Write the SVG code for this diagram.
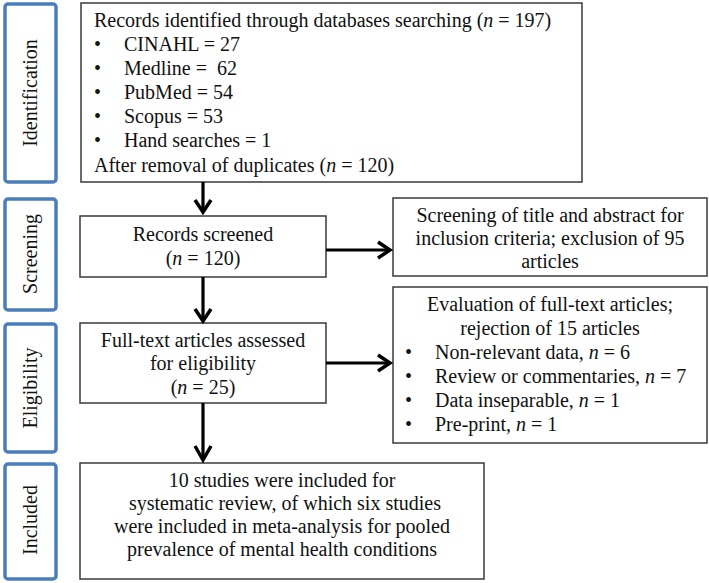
<svg xmlns="http://www.w3.org/2000/svg" width="709" height="583" viewBox="0 0 709 583" font-family="'Liberation Serif', 'Times New Roman', Tinos, 'DejaVu Serif', serif" font-size="20">
<style>
text{font-family:"Liberation Serif","Times New Roman",Tinos,"DejaVu Serif",serif;font-size:20px;fill:#111}
.c{text-anchor:middle}
.i{font-style:italic}
.box{fill:#fff;stroke:#3a3a3a;stroke-width:1.5}
.stage{fill:#fff;stroke:#4a7ebb;stroke-width:3.5}
.ln{fill:none;stroke:#000;stroke-width:3.2}
.hd{fill:none;stroke:#000;stroke-width:3.5;stroke-linejoin:miter}
</style>
<rect width="709" height="583" fill="#fff"/>
<g id="stage-identification"><rect class="stage" x="5" y="4" width="51" height="178" rx="3"/><text class="c" transform="translate(37,93) rotate(-90)">Identification</text></g>
<g id="stage-screening"><rect class="stage" x="5" y="199" width="51" height="111" rx="3"/><text class="c" transform="translate(37,254) rotate(-90)">Screening</text></g>
<g id="stage-eligibility"><rect class="stage" x="5" y="324" width="51" height="128" rx="3"/><text class="c" transform="translate(37,388) rotate(-90)">Eligibility</text></g>
<g id="stage-included"><rect class="stage" x="5" y="464" width="51" height="115" rx="3"/><text class="c" transform="translate(37,520) rotate(-90)">Included</text></g>
<g id="identified"><rect class="box" x="81" y="3" width="501" height="179"/>
<text x="94" y="27">Records identified through databases searching (<tspan class="i">n</tspan> = 197)</text>
<text x="94" y="51">•</text><text x="124" y="51">CINAHL = 27</text>
<text x="94" y="75">•</text><text x="124" y="75">Medline = &#160;62</text>
<text x="94" y="99">•</text><text x="124" y="99">PubMed = 54</text>
<text x="94" y="123">•</text><text x="124" y="123">Scopus = 53</text>
<text x="94" y="147">•</text><text x="124" y="147">Hand searches = 1</text>
<text x="94" y="172">After removal of duplicates (<tspan class="i">n</tspan> = 120)</text>
</g>
<g id="screened"><rect class="box" x="80" y="216" width="246" height="61"/>
<text class="c" x="203" y="241">Records screened</text>
<text class="c" x="203" y="265">(<tspan class="i">n</tspan> = 120)</text>
</g>
<g id="excluded"><rect class="box" x="393" y="198" width="314" height="78"/>
<text class="c" x="550" y="222">Screening of title and abstract for</text>
<text class="c" x="550" y="245">inclusion criteria; exclusion of 95</text>
<text class="c" x="550" y="268">articles</text>
</g>
<g id="fulltext"><rect class="box" x="80" y="323" width="246" height="80"/>
<text class="c" x="203" y="347">Full-text articles assessed</text>
<text class="c" x="203" y="370">for eligibility</text>
<text class="c" x="203" y="394">(<tspan class="i">n</tspan> = 25)</text>
</g>
<g id="rejected"><rect class="box" x="393" y="287" width="314" height="156"/>
<text class="c" x="550" y="311">Evaluation of full-text articles;</text>
<text class="c" x="550" y="335">rejection of 15 articles</text>
<text x="405" y="359">•</text><text x="435" y="359">Non-relevant data, <tspan class="i">n</tspan> = 6</text>
<text x="405" y="383">•</text><text x="435" y="383">Review or commentaries, <tspan class="i">n</tspan> = 7</text>
<text x="405" y="407">•</text><text x="435" y="407">Data inseparable, <tspan class="i">n</tspan> = 1</text>
<text x="405" y="431">•</text><text x="435" y="431">Pre-print, <tspan class="i">n</tspan> = 1</text>
</g>
<g id="included"><rect class="box" x="80" y="463" width="404" height="116"/>
<text class="c" x="282" y="487">10 studies were included for</text>
<text class="c" x="285" y="510">systematic review, of which six studies</text>
<text class="c" x="282" y="533">were included in meta-analysis for pooled</text>
<text class="c" x="282" y="556">prevalence of mental health conditions</text>
</g>
<g id="connectors">
<path class="ln" d="M203,182 V212"/><path class="hd" d="M195,200 L203,212 L211,200"/>
<path class="ln" d="M203,277 V321"/><path class="hd" d="M195,309 L203,321 L211,309"/>
<path class="ln" d="M203,403 V460"/><path class="hd" d="M195,446 L203,460 L211,446"/>
<path class="ln" d="M326,250 H390"/><path class="hd" d="M378,242 L390,250 L378,258"/>
<path class="ln" d="M326,363 H390"/><path class="hd" d="M378,355 L390,363 L378,371"/>
</g>
</svg>
